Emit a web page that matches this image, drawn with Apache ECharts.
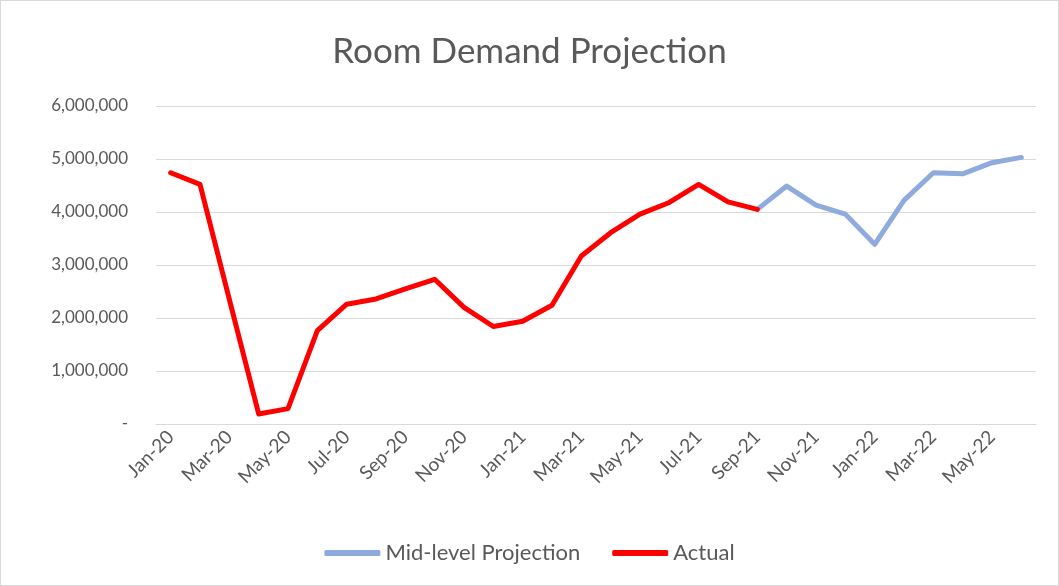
<!DOCTYPE html>
<html>
<head>
<meta charset="utf-8">
<script src="https://cdn.jsdelivr.net/npm/echarts@6/dist/echarts.min.js"></script>
<style>
  html, body { margin: 0; padding: 0; background: #fff; }
  #chart { width: 1057px; height: 584px; border: 1px solid #d9d9d9; }
</style>
</head>
<body>
<div id="chart"></div>
<script>
// months Jan-20 .. Jun-22
const months = [
  'Jan-20', 'Feb-20', 'Mar-20', 'Apr-20', 'May-20', 'Jun-20', 'Jul-20', 'Aug-20', 'Sep-20', 'Oct-20', 'Nov-20', 'Dec-20',
  'Jan-21', 'Feb-21', 'Mar-21', 'Apr-21', 'May-21', 'Jun-21', 'Jul-21', 'Aug-21', 'Sep-21', 'Oct-21', 'Nov-21', 'Dec-21',
  'Jan-22', 'Feb-22', 'Mar-22', 'Apr-22', 'May-22', 'Jun-22'
];

// actual room demand, Jan-20 .. Sep-21
const actual = [
  4740000, 4520000, 2350000, 190000, 290000, 1760000, 2260000, 2360000, 2550000, 2730000, 2200000, 1840000,
  1940000, 2240000, 3170000, 3610000, 3960000, 4180000, 4520000, 4190000, 4050000
];

// mid-level projection, Sep-21 .. Jun-22
const projection = [
  4050000, 4490000, 4130000, 3960000, 3390000, 4220000, 4740000, 4720000, 4930000, 5030000
];

const actualData = months.map((m, i) => (i < actual.length ? actual[i] : null));
const projStart = actual.length - 1;
const projData = months.map((m, i) => (i >= projStart ? projection[i - projStart] : null));

const textColor = '#595959';
const font = 'Lato, "Liberation Sans", sans-serif';

const chart = echarts.init(document.getElementById('chart'));

chart.setOption({
  backgroundColor: '#fff',
  animation: false,
  textStyle: { fontFamily: font },
  title: {
    text: 'Room Demand Projection',
    left: 'center',
    top: 28,
    textStyle: { color: textColor, fontSize: 35, fontWeight: 'normal', fontFamily: font }
  },
  legend: {
    bottom: 16,
    left: 'center',
    icon: 'roundRect',
    itemWidth: 56,
    itemHeight: 6,
    itemGap: 32,
    textStyle: { color: textColor, fontSize: 22, fontFamily: font },
    data: ['Mid-level Projection', 'Actual']
  },
  grid: {
    left: 155,
    right: 22,
    top: 105,
    bottom: 161
  },
  xAxis: {
    type: 'category',
    data: months,
    boundaryGap: true,
    axisLine: { show: true, lineStyle: { color: '#d9d9d9' } },
    axisTick: { show: false },
    axisLabel: {
      interval: 1,
      rotate: 45,
      color: textColor,
      fontSize: 19,
      margin: 10,
      fontFamily: font
    }
  },
  yAxis: {
    type: 'value',
    min: 0,
    max: 6000000,
    interval: 1000000,
    axisLine: { show: false },
    axisTick: { show: false },
    splitLine: { lineStyle: { color: '#d9d9d9', width: 1 } },
    axisLabel: {
      color: textColor,
      fontSize: 17,
      margin: 28,
      fontFamily: font,
      formatter: (v) => (v === 0 ? '-' : v.toLocaleString('en-US'))
    }
  },
  series: [
    {
      name: 'Mid-level Projection',
      type: 'line',
      data: projData,
      symbol: 'none',
      lineStyle: { color: '#8FAADC', width: 5, cap: 'round', join: 'round' },
      itemStyle: { color: '#8FAADC' }
    },
    {
      name: 'Actual',
      type: 'line',
      data: actualData,
      symbol: 'none',
      lineStyle: { color: '#FF0000', width: 5, cap: 'round', join: 'round' },
      itemStyle: { color: '#FF0000' }
    }
  ]
});
</script>
</body>
</html>
